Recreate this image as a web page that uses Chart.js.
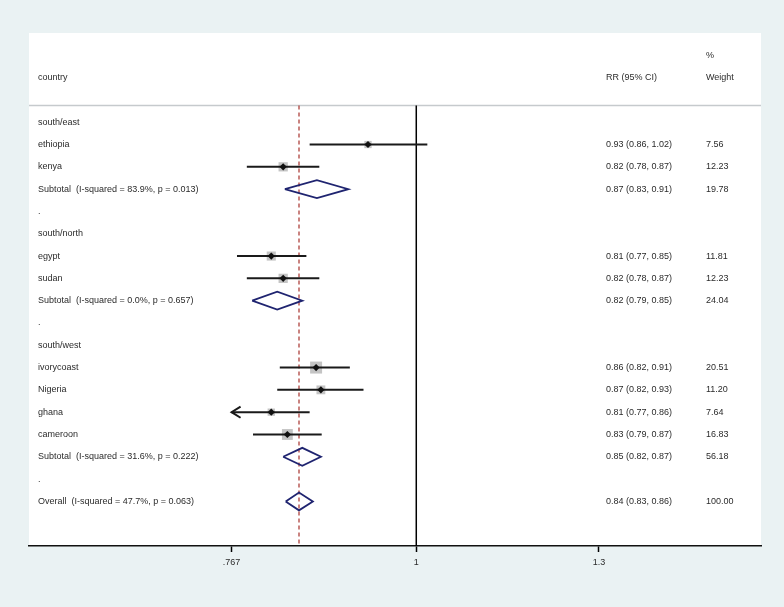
<!DOCTYPE html>
<html>
<head>
<meta charset="utf-8">
<script src="https://cdn.jsdelivr.net/npm/chart.js@4.4.1/dist/chart.umd.min.js"></script>
<style>
  body { margin: 0; background: #eaf2f3; }
  canvas { display: block; }
</style>
</head>
<body>
<canvas id="forest" width="784" height="607"></canvas>
<script>
// row labels, top to bottom
const rows = ['south/east', 'ethiopia', 'kenya', 'Subtotal  (I-squared = 83.9%, p = 0.013)', '.',
  'south/north', 'egypt', 'sudan', 'Subtotal  (I-squared = 0.0%, p = 0.657)', '.',
  'south/west', 'ivorycoast', 'Nigeria', 'ghana', 'cameroon', 'Subtotal  (I-squared = 31.6%, p = 0.222)', '.',
  'Overall  (I-squared = 47.7%, p = 0.063)'];
const rrText = ['', '0.93 (0.86, 1.02)', '0.82 (0.78, 0.87)', '0.87 (0.83, 0.91)', '',
  '', '0.81 (0.77, 0.85)', '0.82 (0.78, 0.87)', '0.82 (0.79, 0.85)', '',
  '', '0.86 (0.82, 0.91)', '0.87 (0.82, 0.93)', '0.81 (0.77, 0.86)', '0.83 (0.79, 0.87)', '0.85 (0.82, 0.87)', '',
  '0.84 (0.83, 0.86)'];
const weightText = ['', '7.56', '12.23', '19.78', '',
  '', '11.81', '12.23', '24.04', '',
  '', '20.51', '11.20', '7.64', '16.83', '56.18', '',
  '100.00'];

// studies
const studyRows = [1, 2, 6, 7, 11, 12, 13, 14];
const studyEst = [0.933, 0.826, 0.812, 0.826, 0.866, 0.872, 0.812, 0.831];
const studyLo = [0.858, 0.784, 0.773, 0.784, 0.822, 0.819, 0.766, 0.791];
const studyHi = [1.016, 0.870, 0.854, 0.870, 0.909, 0.927, 0.858, 0.873];
const studyWeight = [7.56, 12.23, 11.81, 12.23, 20.51, 11.20, 7.64, 16.83];

// subtotals + overall
const poolRows = [3, 8, 15, 17];
const poolEst = [0.867, 0.819, 0.849, 0.845];
const poolLo = [0.828, 0.790, 0.826, 0.829];
const poolHi = [0.907, 0.849, 0.872, 0.862];

// x axis
const tickVals = [0.767, 1, 1.3];
const tickLabels = ['.767', '1', '1.3'];

const clipLo = tickVals[0], clipHi = tickVals[tickVals.length - 1];
const topRow = -0.75, bottomRow = 19;
const txt = '#2b2b2b';

const datasets = [];

// weight boxes
datasets.push({
  data: studyRows.map((r, i) => ({ x: studyEst[i], y: r })),
  pointStyle: 'rect',
  pointRadius: studyWeight.map(w => Math.sqrt(w) * 1.87),
  backgroundColor: '#c4c4c4',
  borderWidth: 0,
  order: 3
});

// confidence intervals (clipped at axis range, arrow when clipped)
studyRows.forEach((r, i) => {
  const lo = Math.max(studyLo[i], clipLo), hi = Math.min(studyHi[i], clipHi);
  datasets.push({
    data: [{ x: lo, y: r }, { x: hi, y: r }],
    showLine: true, borderColor: '#1a1a1a', borderWidth: 2, pointRadius: 0, order: 1
  });
  if (studyLo[i] < clipLo) {
    const f = Math.pow(10, 9 / 1603);
    datasets.push({
      data: [{ x: clipLo * f, y: r - 0.25 }, { x: clipLo, y: r }, { x: clipLo * f, y: r + 0.25 }],
      showLine: true, borderColor: '#1a1a1a', borderWidth: 2, pointRadius: 0, order: 1
    });
  }
});

// point estimates
datasets.push({
  data: studyRows.map((r, i) => ({ x: studyEst[i], y: r })),
  pointStyle: 'rectRot', pointRadius: 3.6,
  backgroundColor: '#111', borderWidth: 0, order: 0
});

// pooled diamonds
poolRows.forEach((r, i) => {
  datasets.push({
    data: [
      { x: poolLo[i], y: r }, { x: poolEst[i], y: r - 0.4 }, { x: poolHi[i], y: r },
      { x: poolEst[i], y: r + 0.4 }, { x: poolLo[i], y: r }
    ],
    showLine: true, borderColor: '#1f2470', borderWidth: 1.8, pointRadius: 0,
    tension: 0, order: 1
  });
});

// no-effect line and overall dashed line
datasets.push({
  data: [{ x: 1, y: topRow }, { x: 1, y: bottomRow }],
  showLine: true, borderColor: '#000', borderWidth: 1.5, pointRadius: 0, order: 4
});
datasets.push({
  data: [{ x: poolEst[3], y: topRow }, { x: poolEst[3], y: bottomRow }],
  showLine: true, borderColor: '#a8322d', borderWidth: 1.2, borderDash: [4, 3],
  pointRadius: 0, order: 4
});

const panel = {
  id: 'panel',
  beforeDraw(chart) {
    const { ctx, chartArea: a } = chart;
    ctx.save();
    ctx.fillStyle = '#eaf2f3';
    ctx.fillRect(0, 0, chart.width, chart.height);
    ctx.fillStyle = '#fff';
    ctx.fillRect(a.left, a.top, a.right - a.left, a.bottom - a.top);
    const y = chart.scales.y.getPixelForValue(topRow);
    ctx.strokeStyle = '#c6cacd';
    ctx.lineWidth = 1.5;
    ctx.beginPath();
    ctx.moveTo(a.left, y);
    ctx.lineTo(a.right, y);
    ctx.stroke();
    ctx.restore();
  },
  afterDatasetsDraw(chart) {
    const { ctx, chartArea: a } = chart;
    const ys = chart.scales.y;
    const xName = a.left + 9, xRR = 606, xW = 706;
    ctx.save();
    ctx.fillStyle = txt;
    ctx.font = '9px "Liberation Sans", Arial, sans-serif';
    ctx.textBaseline = 'middle';
    ctx.fillText('%', xW, ys.getPixelForValue(-3));
    ctx.fillText('country', xName, ys.getPixelForValue(-2));
    ctx.fillText('RR (95% CI)', xRR, ys.getPixelForValue(-2));
    ctx.fillText('Weight', xW, ys.getPixelForValue(-2));
    rows.forEach((label, r) => {
      const y = ys.getPixelForValue(r);
      ctx.fillText(label, xName, y);
      if (rrText[r]) ctx.fillText(rrText[r], xRR, y);
      if (weightText[r]) ctx.fillText(weightText[r], xW, y);
    });
    ctx.restore();
  }
};

new Chart(document.getElementById('forest'), {
  type: 'scatter',
  data: { datasets: datasets },
  options: {
    responsive: false,
    animation: false,
    layout: { padding: { left: 29, right: 23, top: 33, bottom: 6 } },
    plugins: { legend: { display: false }, tooltip: { enabled: false } },
    scales: {
      x: {
        type: 'logarithmic',
        min: 0.5734,
        max: 1.6406,
        afterBuildTicks: (axis) => { axis.ticks = tickVals.map(v => ({ value: v })); },
        afterFit: (axis) => { axis.height = 55; },
        ticks: {
          autoSkip: false, maxRotation: 0, padding: 5,
          color: txt, font: { family: '"Liberation Sans", Arial, sans-serif', size: 9 },
          callback: (v, i) => tickLabels[i]
        },
        grid: { drawOnChartArea: false, drawTicks: true, tickLength: 6, tickColor: '#000', tickWidth: 1.5 },
        border: { display: true, color: '#111', width: 1.5 }
      },
      y: {
        type: 'linear',
        reverse: true,
        min: -4,
        max: 19,
        display: false
      }
    }
  },
  plugins: [panel]
});
</script>
</body>
</html>
